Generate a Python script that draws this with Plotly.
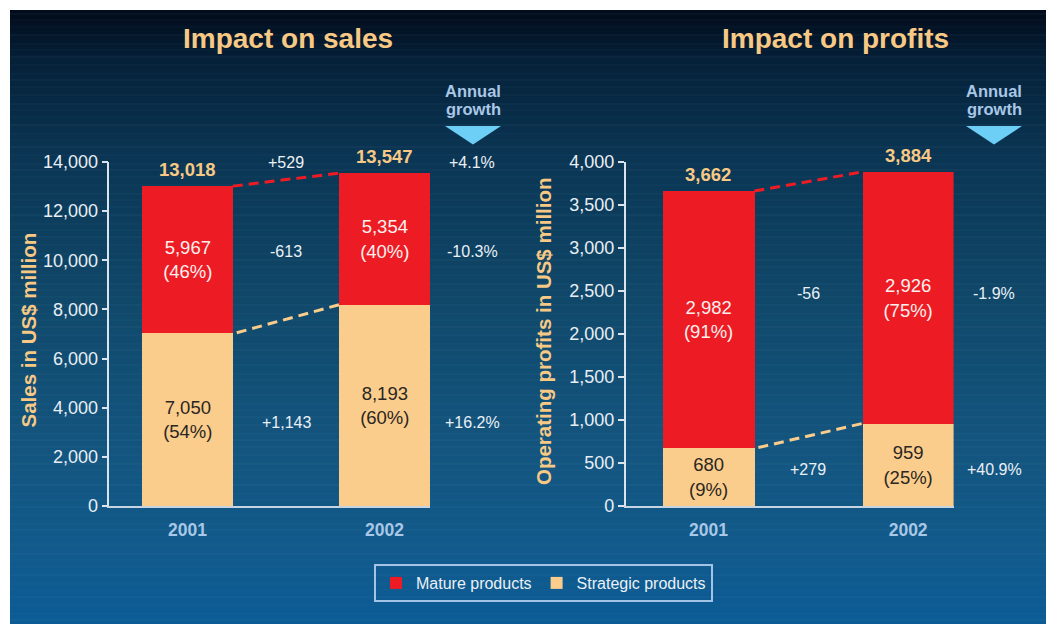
import plotly.graph_objects as go

# ---------------- data ----------------
years = ["2001", "2002"]

sales_mature = [5967, 5354]
sales_strategic = [7050, 8193]
sales_total = [13018, 13547]
sales_mature_share = [46, 40]
sales_strategic_share = [54, 60]
sales_change = [529, -613, 1143]      # total, mature, strategic
sales_growth = [4.1, -10.3, 16.2]     # % total, mature, strategic

profit_mature = [2982, 2926]
profit_strategic = [680, 959]
profit_total = [3662, 3884]
profit_mature_share = [91, 75]
profit_strategic_share = [9, 25]
profit_change = [222, -56, 279]
profit_growth = [6.1, -1.9, 40.9]

series_names = ["Mature products", "Strategic products"]

# ---------------- style ----------------
W, H = 1054, 624
OFF = 8  # page body margin of the html page
RED = "#ed1c24"
ORANGE = "#fbcd8c"
TITLE_C = "#f8c985"
AXIS_C = "#dbe3ec"
YEAR_C = "#a9c7e6"
TXT_C = "#eaf0f6"
SANS = "Liberation Sans, Arial, sans-serif"
BAR_W = 0.46

def px(x):
    return (x - OFF) / W

def py(y):
    return 1 - (y - OFF) / H

# row positions (data units) for the change / growth columns
rows_sales = [13960, 10340, 3400]
rows_profit = [4050, 2470, 425]

fig = go.Figure()

# ---------------- background ----------------
stops = [(10, (2, 11, 26)), (60, (5, 32, 56)), (150, (10, 52, 82)),
         (300, (16, 72, 106)), (450, (19, 85, 127)), (550, (17, 90, 139)),
         (640, (10, 92, 152))]

def col_at(y):
    for (y0, c0), (y1, c1) in zip(stops[:-1], stops[1:]):
        if y0 <= y <= y1:
            t = (y - y0) / (y1 - y0)
            return "rgb(%d,%d,%d)" % tuple(round(a + (b - a) * t) for a, b in zip(c0, c1))
    return "rgb(%d,%d,%d)" % stops[-1][1]

shapes = []
band = 3
y = 10
while y < 640:
    shapes.append(dict(type="rect", xref="paper", yref="paper", layer="below",
                       x0=px(10), x1=1.01, y0=py(y + band + 0.5), y1=py(y),
                       fillcolor=col_at(y + band / 2), line=dict(width=0)))
    y += band
y = 14
k = 0
while y < 640:
    shapes.append(dict(type="line", xref="paper", yref="paper", layer="below",
                       x0=px(10), x1=1.01, y0=py(y), y1=py(y),
                       line=dict(color="rgba(160,200,230,0.05)" if k % 3 else "rgba(160,200,230,0.08)", width=1)))
    y += 6 + (k % 4)
    k += 1

# triangles under "Annual growth"
for cx in (473, 994):
    shapes.append(dict(type="path", xref="paper", yref="paper",
                       path="M %f %f L %f %f L %f %f Z" % (px(cx - 28), py(126), px(cx + 28), py(126), px(cx), py(144.5)),
                       fillcolor="#6dcff6", line=dict(width=0)))

# ---------------- bars ----------------
def add_chart(mature, strategic, m_share, s_share, xa, ya, show):
    fig.add_trace(go.Bar(
        x=[0, 1], y=strategic, name=series_names[1], marker=dict(color=ORANGE, line=dict(width=0)),
        width=BAR_W, xaxis=xa, yaxis=ya, showlegend=show, legendgroup="s", legendrank=2,
        text=[f"{v:,}<br>({s}%)" for v, s in zip(strategic, s_share)],
        textposition="inside", insidetextanchor="middle", textangle=0,
        textfont=dict(family=SANS, size=18.5, color="#2a2622"), hoverinfo="skip"))
    fig.add_trace(go.Bar(
        x=[0, 1], y=mature, name=series_names[0], marker=dict(color=RED, line=dict(width=0)),
        width=BAR_W, xaxis=xa, yaxis=ya, showlegend=show, legendgroup="m", legendrank=1,
        text=[f"{v:,}<br>({s}%)" for v, s in zip(mature, m_share)],
        textposition="inside", insidetextanchor="middle", textangle=0,
        textfont=dict(family=SANS, size=18.5, color="#fdf0ee"), hoverinfo="skip"))

add_chart(sales_mature, sales_strategic, sales_mature_share, sales_strategic_share, "x", "y", True)
add_chart(profit_mature, profit_strategic, profit_mature_share, profit_strategic_share, "x2", "y2", False)

# dashed connectors
for tot, strat, xa, ya in ((sales_total, sales_strategic, "x", "y"),
                           (profit_total, profit_strategic, "x2", "y2")):
    fig.add_trace(go.Scatter(x=[BAR_W / 2, 1 - BAR_W / 2], y=tot, mode="lines", xaxis=xa, yaxis=ya,
                             line=dict(color=RED, width=3, dash="10px,6px"), showlegend=False, hoverinfo="skip"))
    fig.add_trace(go.Scatter(x=[BAR_W / 2 + 0.02, 1 - BAR_W / 2], y=strat, mode="lines", xaxis=xa, yaxis=ya,
                             line=dict(color=ORANGE, width=3, dash="10px,6px"), showlegend=False, hoverinfo="skip"))

# ---------------- annotations ----------------
ann = []

def pa(text, x, y, size, color, bold=False, angle=0):
    ann.append(dict(text=f"<b>{text}</b>" if bold else text, x=px(x), y=py(y), xref="paper", yref="paper",
                    xanchor="center", yanchor="middle", textangle=angle, showarrow=False,
                    font=dict(family=SANS, size=size, color=color)))

pa("Impact on sales", 288, 38, 28, TITLE_C, bold=True)
pa("Impact on profits", 835, 38, 28, TITLE_C, bold=True)
for cx in (473, 994):
    pa("Annual", cx, 91, 16.5, YEAR_C, bold=True)
    pa("growth", cx, 109.5, 16.5, YEAR_C, bold=True)
pa("Sales in US$ million", 28, 330.5, 20.5, TITLE_C, bold=True, angle=-90)
pa("Operating profits in US$ million", 543, 331, 20.5, TITLE_C, bold=True, angle=-90)

for tots, xr, yr in ((sales_total, "x", "y"), (profit_total, "x2", "y2")):
    for i, t in enumerate(tots):
        ann.append(dict(text=f"<b>{t:,}</b>", x=i, y=t, xref=xr, yref=yr, xanchor="center",
                        yanchor="bottom", yshift=4, showarrow=False,
                        font=dict(family=SANS, size=18.5, color=TITLE_C)))

for changes, growth, rows, xr, yr, gx in ((sales_change, sales_growth, rows_sales, "x", "y", 472),
                                          (profit_change, profit_growth, rows_profit, "x2", "y2", 994)):
    for c, g, ry in zip(changes, growth, rows):
        ann.append(dict(text=f"{c:+,}", x=0.5, y=ry, xref=xr, yref=yr, xanchor="center", yanchor="middle",
                        showarrow=False, font=dict(family=SANS, size=16, color=TXT_C)))
        ann.append(dict(text=f"{g:+.1f}%", x=px(gx), y=ry, xref="paper", yref=yr, xanchor="center",
                        yanchor="middle", showarrow=False, font=dict(family=SANS, size=16, color=TXT_C)))

# ---------------- axes ----------------
def xaxis(dom, rng, anchor):
    return dict(domain=dom, range=rng, tickvals=[0, 1], ticktext=years, showline=True,
                linecolor="#c6d4e2", linewidth=2, ticks="outside", ticklen=7, tickcolor="rgba(0,0,0,0)",
                tickfont=dict(family=SANS, size=17.5, color=YEAR_C, weight="bold"),
                showgrid=False, zeroline=False, anchor=anchor, fixedrange=True, automargin=False)

def yaxis(dom, rng, dtick, anchor):
    return dict(domain=dom, range=rng, dtick=dtick, tick0=0, tickformat=",", showline=True,
                linecolor=AXIS_C, linewidth=1.5, ticks="outside", ticklen=6, tickwidth=1.5, tickcolor=AXIS_C,
                tickfont=dict(family=SANS, size=18, color="#e8eef4"),
                showgrid=False, zeroline=False, anchor=anchor, fixedrange=True, automargin=False)

ydom = [py(506), py(162)]
fig.update_layout(
    width=W, height=H, autosize=False,
    margin=dict(l=0, r=0, t=0, b=0, pad=0, autoexpand=False),
    paper_bgcolor="white", plot_bgcolor="rgba(0,0,0,0)",
    barmode="stack", bargap=0,
    xaxis=xaxis([px(109.3), px(430)], [-0.397, 1.231], "y"),
    yaxis=yaxis(ydom, [0, 14000], 2000, "x"),
    xaxis2=xaxis([px(625.6), px(953.6)], [-0.415, 1.2277], "y2"),
    yaxis2=yaxis(ydom, [0, 4000], 500, "x2"),
    shapes=shapes, annotations=ann,
    legend=dict(orientation="h", x=px(543.5), xanchor="center", y=py(583), yanchor="middle",
                bordercolor="#a3c4e6", borderwidth=2, bgcolor="rgba(0,0,0,0)",
                font=dict(family=SANS, size=16, color=TXT_C), traceorder="normal"),
    showlegend=True,
)

fig.write_html("out.html")
